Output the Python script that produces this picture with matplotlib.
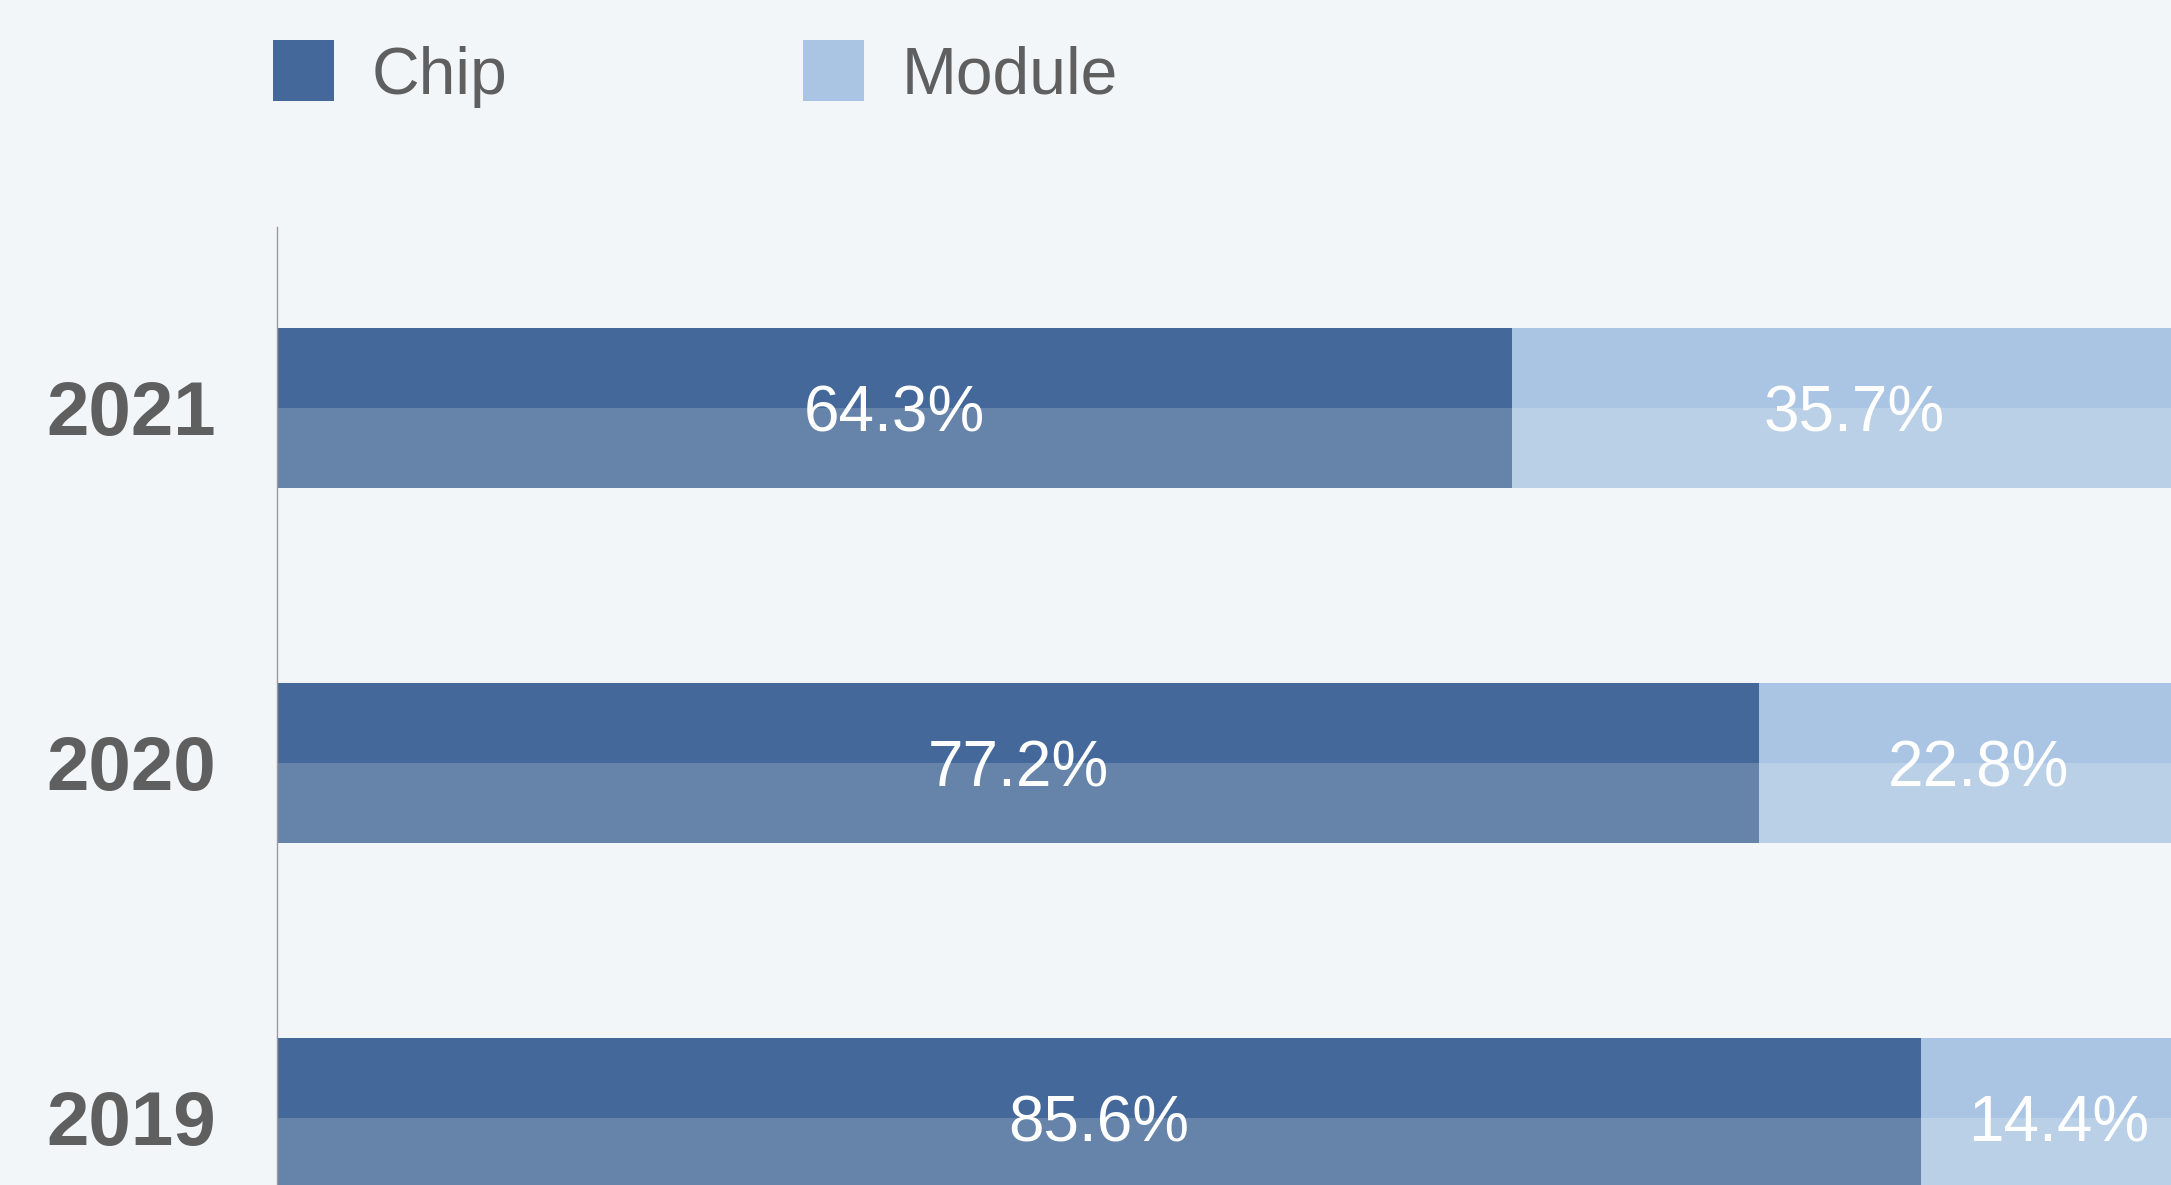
import matplotlib.pyplot as plt
from matplotlib.patches import Rectangle

years = ['2019', '2020', '2021']
chip = [85.6, 77.2, 64.3]
module = [14.4, 22.8, 35.7]
series_names = ['Chip', 'Module']

W, H = 2171, 1185
bg = '#f3f6f9'
chip_top, chip_bot = '#44689a', '#6683a9'
mod_top, mod_bot = '#a9c5e3', '#bad0e7'
grey = '#5f5f5f'

plt.rcParams['font.family'] = ['Liberation Sans', 'DejaVu Sans']

fig = plt.figure(figsize=(W / 100, H / 100), dpi=100, facecolor=bg)
# axes runs a bit past the right edge, as in the original
ax = fig.add_axes([277 / W, 0, (2197 - 277) / W, (H - 227) / H])
ax.set_facecolor(bg)

y = list(range(len(years)))
h = 0.45
lower = [v - h / 2 for v in y]

# each bar: darker upper half, lighter lower half
ax.barh(y, chip, height=h / 2, align='edge', color=chip_top, linewidth=0)
ax.barh(lower, chip, height=h / 2, align='edge', color=chip_bot, linewidth=0)
ax.barh(y, module, left=chip, height=h / 2, align='edge', color=mod_top, linewidth=0)
ax.barh(lower, module, left=chip, height=h / 2, align='edge', color=mod_bot, linewidth=0)

for i in range(len(years)):
    ax.text(chip[i] / 2, y[i], f'{chip[i]}%', ha='center', va='center_baseline',
            color='white', fontsize=46)
    ax.text(chip[i] + module[i] / 2, y[i], f'{module[i]}%', ha='center',
            va='center_baseline', color='white', fontsize=46)

ax.set_xlim(0, 100)
ax.set_ylim(-0.19, 2.51)
ax.set_xticks([])
ax.set_yticks(y, years)
ax.tick_params(axis='y', length=0, pad=44, labelsize=55, labelcolor=grey)
for t in ax.get_yticklabels():
    t.set_fontweight('bold')

for s in ['top', 'right', 'bottom']:
    ax.spines[s].set_visible(False)
ax.spines['left'].set_color('#9a9a9a')
ax.spines['left'].set_linewidth(1)

# legend drawn by hand
for name, col, x0 in zip(series_names, [chip_top, mod_top], [273, 803]):
    fig.add_artist(Rectangle((x0 / W, 1 - 101 / H), 61 / W, 61 / H,
                             transform=fig.transFigure, color=col, linewidth=0))
    fig.text((x0 + 99) / W, 1 - 94 / H, name, fontsize=47.5, color=grey, va='baseline')

fig.savefig('out.png', dpi=100, facecolor=bg)
